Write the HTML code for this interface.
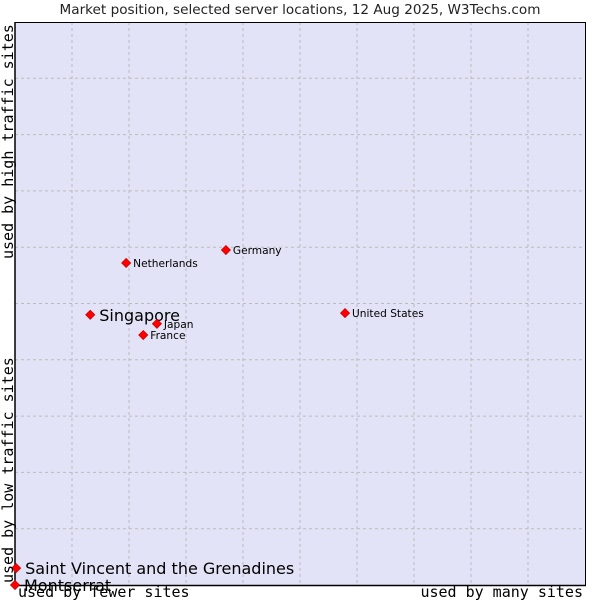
<!DOCTYPE html>
<html><head><meta charset="utf-8"><style>
body{margin:0;background:#fff}
svg{display:block}
</style></head><body>
<svg id="chart" width="600" height="600" xmlns="http://www.w3.org/2000/svg">
<text x="300" y="14" text-anchor="middle" font-family="DejaVu Sans, sans-serif" font-size="13.6" fill="#222">Market position, selected server locations, 12 Aug 2025, W3Techs.com</text>
<rect x="15" y="22" width="570" height="563" fill="#e3e3f7"/>
<g id="grid"></g>
<line x1="15" y1="22" x2="15" y2="586" stroke="#000" stroke-width="1.5"/>
<line x1="14" y1="585.5" x2="586" y2="585.5" stroke="#000" stroke-width="1.5"/>
<line x1="15" y1="22.5" x2="585" y2="22.5" stroke="#000" stroke-width="1"/>
<line x1="585.5" y1="22" x2="585.5" y2="585" stroke="#000" stroke-width="1"/>
<g id="points"></g>
<text x="18" y="597" font-family="DejaVu Sans Mono, monospace" font-size="15" fill="#000">used by fewer sites</text>
<text x="583" y="597" text-anchor="end" font-family="DejaVu Sans Mono, monospace" font-size="15" fill="#000">used by many sites</text>
<text transform="translate(13,583) rotate(-90)" font-family="DejaVu Sans Mono, monospace" font-size="15" fill="#000">used by low traffic sites</text>
<text transform="translate(13,259) rotate(-90)" font-family="DejaVu Sans Mono, monospace" font-size="15" fill="#000">used by high traffic sites</text>
</svg>
<script>
const names = ["Singapore","Netherlands","Germany","Japan","France","United States","Saint Vincent and the Grenadines","Montserrat"];
const xVals = [13.2,19.5,37.0,24.9,22.5,57.9,0.2,0];
const yVals = [48.0,57.2,59.5,46.4,44.4,48.3,3.0,0];
const big = [true,false,false,false,false,false,true,true];
const NS="http://www.w3.org/2000/svg";
const X0=15,X1=585,Y0=585,Y1=22;
const sx=v=>X0+v/100*(X1-X0);
const sy=v=>Y0-v/100*(Y0-Y1);
const grid=document.getElementById('grid');
for(let i=1;i<10;i++){
  const l=document.createElementNS(NS,'line');
  
  
  l.setAttribute('x1',sx(i*10));l.setAttribute('x2',sx(i*10));l.setAttribute('y1',Y1);l.setAttribute('y2',Y0);
  l.setAttribute('stroke','#bbb');l.setAttribute('stroke-dasharray','3,3');grid.appendChild(l);
  const h=document.createElementNS(NS,'line');
  
  
  h.setAttribute('x1',X0);h.setAttribute('x2',X1);h.setAttribute('y1',sy(i*10));h.setAttribute('y2',sy(i*10));
  h.setAttribute('stroke','#bbb');h.setAttribute('stroke-dasharray','3,3');grid.appendChild(h);
}
const pg=document.getElementById('points');
names.forEach((n,i)=>{
  const x=sx(xVals[i]),y=sy(yVals[i]);
  const d=document.createElementNS(NS,'polygon');
  
  
  d.setAttribute('points',`${x},${y-4.5} ${x+4.5},${y} ${x},${y+4.5} ${x-4.5},${y}`);
  d.setAttribute('fill','#f00');d.setAttribute('stroke','#c00');d.setAttribute('stroke-width','0.8');
  pg.appendChild(d);
  const t=document.createElementNS(NS,'text');
  
  
  t.setAttribute('x',x+(big[i]?9:7));t.setAttribute('y',y+(big[i]?6:4));
  t.setAttribute('font-family','DejaVu Sans, sans-serif');
  t.setAttribute('font-size',big[i]?'16':'10.6');t.setAttribute('fill','#000');
  t.textContent=n;pg.appendChild(t);
});
</script>
</body></html>
